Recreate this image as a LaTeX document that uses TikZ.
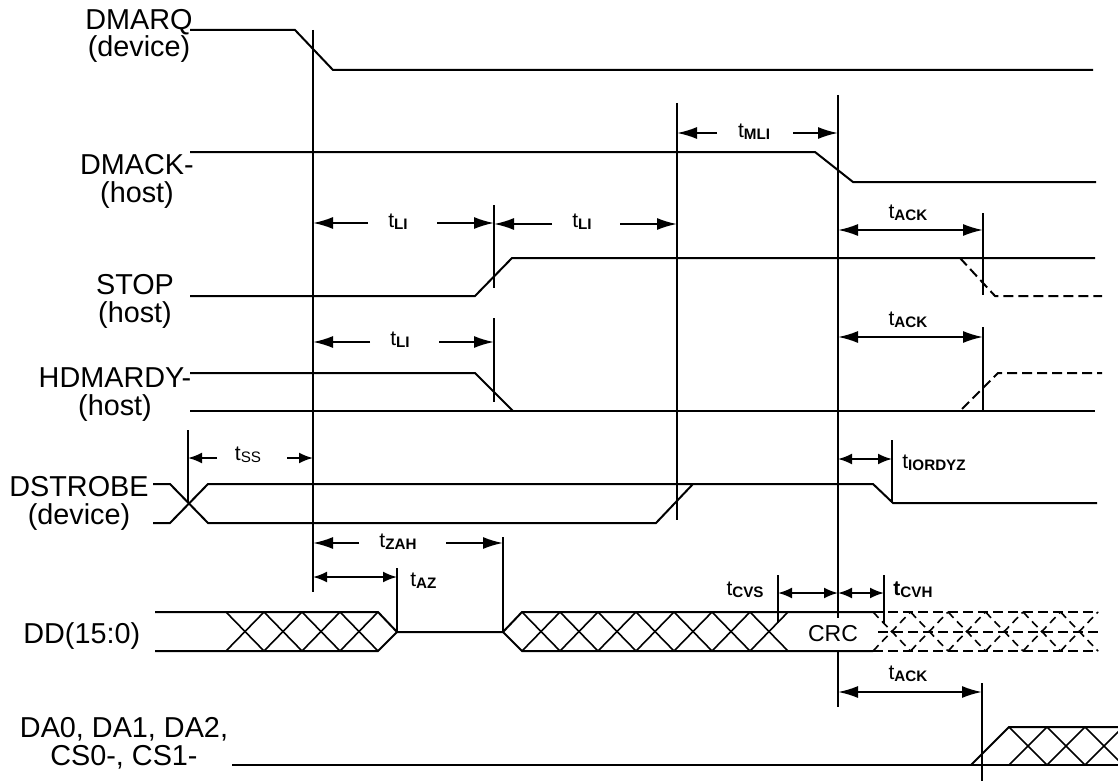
\documentclass[tikz,border=0pt]{standalone}
\usepackage{fontspec}
\setmainfont{Liberation Sans}
\usetikzlibrary{arrows.meta, positioning}

\newcommand{\tsub}[1]{t\raisebox{-1.2pt}{\fontsize{7.6}{8}\selectfont\bfseries #1}}
\newcommand{\tsubn}[1]{t\raisebox{-1.2pt}{\fontsize{7.6}{8}\selectfont #1}}
\newcommand{\tsubb}[1]{\textbf{t}\raisebox{-1.2pt}{\fontsize{7.6}{8}\selectfont\bfseries #1}}

\begin{document}
\begin{tikzpicture}[
    x=0.5pt, y=-0.5pt,
    sig/.style={line width=1pt},
    zsig/.style={line width=1pt, dash pattern=on 5pt off 2.5pt},
    hatch/.style={line width=0.8pt},
    zhatch/.style={line width=0.8pt, dash pattern=on 4pt off 2.5pt},
    vline/.style={line width=1pt},
    dimarr/.style={-{Latex[length=10pt,width=6pt]}, line width=1pt},
    dimboth/.style={{Latex[length=10pt,width=6pt]}-{Latex[length=10pt,width=6pt]}, line width=1pt},
    smallarr/.style={-{Latex[length=7pt,width=5.5pt]}, line width=1pt},
    smallboth/.style={{Latex[length=7pt,width=5.5pt]}-{Latex[length=7pt,width=5.5pt]}, line width=1pt},
    sname/.style={font=\fontsize{14.4}{13.7}\selectfont, align=center, inner sep=0pt, anchor=base},
    tlabel/.style={font=\fontsize{10.5}{12}\selectfont, inner sep=0pt}
]
\useasboundingbox (0,0) rectangle (1118,781);

% ===== SIGNAL NAMES (base = last line) =====
\node[sname] (dmarq) at (139,57) {DMARQ\\(device)};
\node[sname] (dmack) at (137,202) {DMACK-\\(host)};
\node[sname] (stop) at (135,322) {STOP\\(host)};
\node[sname] (hdmardy) at (115,415) {HDMARDY-\\(host)};
\node[sname] (dstrobe) at (79,524) {DSTROBE\\(device)};
\node[sname, anchor=base west] (dd) at (23,643) {DD(15:0)};
\node[sname] (da) at (124,765) {DA0, DA1, DA2,\\CS0-, CS1-};

% ===== REFERENCE LINES =====
\draw[vline] (313,30) -- (313,592);
\draw[vline] (494,205) -- (494,288);
\draw[vline] (494,318) -- (494,402);
\draw[vline] (677,103) -- (677,520);
\draw[vline] (838,95) -- (838,618);
\draw[vline] (838,650) -- (838,707);
\draw[vline] (983,213) -- (983,295);
\draw[vline] (983,327) -- (983,410);
\draw[vline] (188,430) -- (188,503);
\draw[vline] (892,440) -- (892,503);
\draw[vline] (778,575) -- (778,623);
\draw[vline] (884,575) -- (884,623);
\draw[vline] (397,568) -- (397,632);
\draw[vline] (503,537) -- (503,632);
\draw[vline] (982,683) -- (982,781);

% ===== WAVEFORMS =====
\draw[sig] (190,30) -- (295,30) -- (333,70) -- (1093,70);
\draw[sig] (190,152) -- (815,152) -- (853,182) -- (1096,182);
\draw[sig] (190,296) -- (475,296) -- (512,258) -- (1095,258);
\draw[zsig] (960,258) -- (995,296) -- (1102,296);
\draw[sig] (190,373) -- (475,373) -- (513,411);
\draw[sig] (190,411) -- (1095,411);
\draw[zsig] (962,409) -- (998,373) -- (1102,373);
\draw[sig] (153,484) -- (170,484) -- (208,523) -- (656,523) -- (693,484);
\draw[sig] (153,523) -- (170,523) -- (208,484) -- (873,484) -- (893,503) -- (1097,503);

% DD(15:0) bus
\draw[sig] (155,612) -- (378,612) -- (397,632) -- (503,632) -- (522,612) -- (873,612);
\draw[sig] (155,651) -- (378,651) -- (397,632);
\draw[sig] (503,632) -- (522,651) -- (873,651);
\foreach \a in {226,264,302,340,522,560,...,750} {
    \draw[hatch] (\a,612) -- ++(38,39);
    \draw[hatch] (\a,651) -- ++(38,-39);
}
\draw[zsig] (873,612) -- (1098,612);
\draw[zsig] (873,651) -- (1098,651);
\draw[zsig] (878,632) -- (1098,632);
\foreach \k in {0,...,5} {
    \draw[zhatch] ({873+37.5*\k},612) -- ++(37.5,39);
    \draw[zhatch] ({873+37.5*\k},651) -- ++(37.5,-39);
}
\node[font=\fontsize{11.5}{12}\selectfont, inner sep=0pt] (crc) at (833,634) {CRC};

% DA / CS bus
\begin{scope}
\clip (0,0) rectangle (1118,781);
\draw[sig] (232,765) -- (1118,765);
\draw[sig] (971,765) -- (1009,727) -- (1118,727);
\foreach \a in {1009,1047,1085} {
    \draw[hatch] (\a,727) -- ++(38,38);
    \draw[hatch] (\a,765) -- ++(38,-38);
}
\end{scope}

% ===== TIMING PARAMETERS =====
\node[tlabel] (tmli) at (754,132) {\tsub{MLI}};
\draw[dimarr] (717,133) -- (677,133);
\draw[dimarr] (793,133) -- (838,133);

\node[tlabel] (tli1) at (398,222) {\tsub{LI}};
\draw[dimarr] (368,223) -- (313,223);
\draw[dimarr] (437,223) -- (494,223);

\node[tlabel] (tli2) at (582,222) {\tsub{LI}};
\draw[dimarr] (552,224) -- (494,224);
\draw[dimarr] (620,224) -- (677,224);

\node[tlabel] (tli3) at (400,340) {\tsub{LI}};
\draw[dimarr] (370,342) -- (313,342);
\draw[dimarr] (439,342) -- (494,342);

\node[tlabel] (tack1) at (908,213) {\tsub{ACK}};
\draw[dimboth] (838,230) -- (983,230);

\node[tlabel] (tack2) at (908,320) {\tsub{ACK}};
\draw[dimboth] (838,337) -- (983,337);

\node[tlabel] (tss) at (248,455) {\tsubn{SS}};
\draw[smallarr] (217,458) -- (188,458);
\draw[smallarr] (287,458) -- (313,458);

\node[tlabel, anchor=west] (tiordyz) at (902,463) {\tsub{IORDYZ}};
\draw[smallboth] (838,459) -- (892,459);

\node[tlabel] (tzah) at (398,542) {\tsub{ZAH}};
\draw[dimarr] (359,543) -- (313,543);
\draw[dimarr] (446,543) -- (503,543);

\node[tlabel, anchor=west] (taz) at (410,581) {\tsub{AZ}};
\draw[smallboth] (313,577) -- (397,577);

\node[tlabel, anchor=east] (tcvs) at (764,590) {\tsub{CVS}};
\draw[smallboth] (778,593) -- (838,593);

\node[tlabel, anchor=west] (tcvh) at (893,590) {\tsubb{CVH}};
\draw[smallboth] (838,593) -- (884,593);

\node[tlabel] (tack3) at (908,674) {\tsub{ACK}};
\draw[dimboth] (838,692) -- (982,692);

\end{tikzpicture}
\end{document}
